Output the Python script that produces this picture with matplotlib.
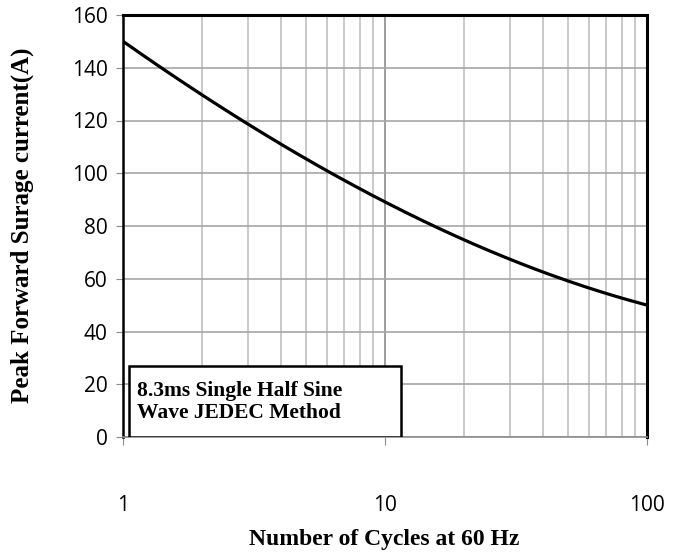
import matplotlib
matplotlib.use("Agg")
import matplotlib.pyplot as plt
from matplotlib.ticker import FixedLocator, NullFormatter
from matplotlib.patches import Rectangle
import numpy as np

cycles = [1, 2, 3, 4, 6, 10, 20, 30, 50, 100]
current = [150, 130.4, 119.4, 111, 100, 88.7, 74.7, 67.9, 59.5, 50]
x_ticks = [1, 10, 100]
x_tick_labels = ["1", "10", "100"]
y_ticks = [0, 20, 40, 60, 80, 100, 120, 140, 160]

fig = plt.figure(figsize=(6.81, 5.55), dpi=100)
ax = fig.add_axes([123/681, 1-437/555, (647-123)/681, (437-15)/555])

# smooth curve through the read points (fit in log-x space)
lx = np.log10(cycles)
w = np.ones(len(lx))
w[0] = w[-1] = 5
coef = np.polyfit(lx, current, 3, w=w)
xs = np.linspace(lx[0], lx[-1], 400)
ys = np.polyval(coef, xs)
ax.plot(10**xs, ys, color="black", lw=2.3, zorder=3)

ax.set_xscale("log")
ax.set_xlim(1, 100)
ax.set_ylim(0, 160)
ax.xaxis.set_major_locator(FixedLocator(x_ticks))
ax.set_xticklabels(x_tick_labels)
minor = [m * d for d in (1, 10) for m in range(2, 10)]
ax.xaxis.set_minor_locator(FixedLocator(minor))
ax.xaxis.set_minor_formatter(NullFormatter())
ax.set_yticks(y_ticks)

ax.grid(True, which="major", axis="x", color="#8c8c8c", lw=1.2)
ax.grid(True, which="minor", axis="x", color="#c0c0c0", lw=1.2)
ax.grid(True, which="major", axis="y", color="#a6a6a6", lw=1.2)
ax.set_axisbelow(True)

for s in ("top", "right"):
    ax.spines[s].set_color("black")
    ax.spines[s].set_linewidth(2.2)
ax.spines["left"].set_color("black")
ax.spines["left"].set_linewidth(1.8)
ax.spines["bottom"].set_color("#8c8c8c")
ax.spines["bottom"].set_linewidth(1.2)

ax.tick_params(axis="x", which="major", direction="out", length=6, color="#8c8c8c",
               pad=36, labelsize=15)
ax.tick_params(axis="x", which="minor", length=0)
ax.tick_params(axis="y", direction="out", length=5, color="#8c8c8c", pad=6, labelsize=15)
for lab in ax.get_xticklabels() + ax.get_yticklabels():
    lab.set_family("Open Sans")

fig.text(384/681, 1-540/555, "Number of Cycles at 60 Hz", family="Liberation Serif",
         fontweight="bold", fontsize=17, ha="center", va="center")
fig.text(22/681, 1-225/555, "Peak Forward Surage current(A)", family="Liberation Serif",
         fontweight="bold", fontsize=18, ha="center", va="center", rotation=90)

ax.text((137-123)/524, (437-402)/422, "8.3ms Single Half Sine\nWave JEDEC Method",
        transform=ax.transAxes, family="Liberation Serif", fontweight="bold",
        fontsize=15.5, va="center", ha="left", linespacing=1.15, zorder=5)
ax.add_patch(Rectangle((6/524, 0.0), (401-129)/524, (437-366)/422, transform=ax.transAxes,
                       facecolor="white", edgecolor="black", lw=1.8, zorder=4))

fig.savefig("out.png", dpi=100)
